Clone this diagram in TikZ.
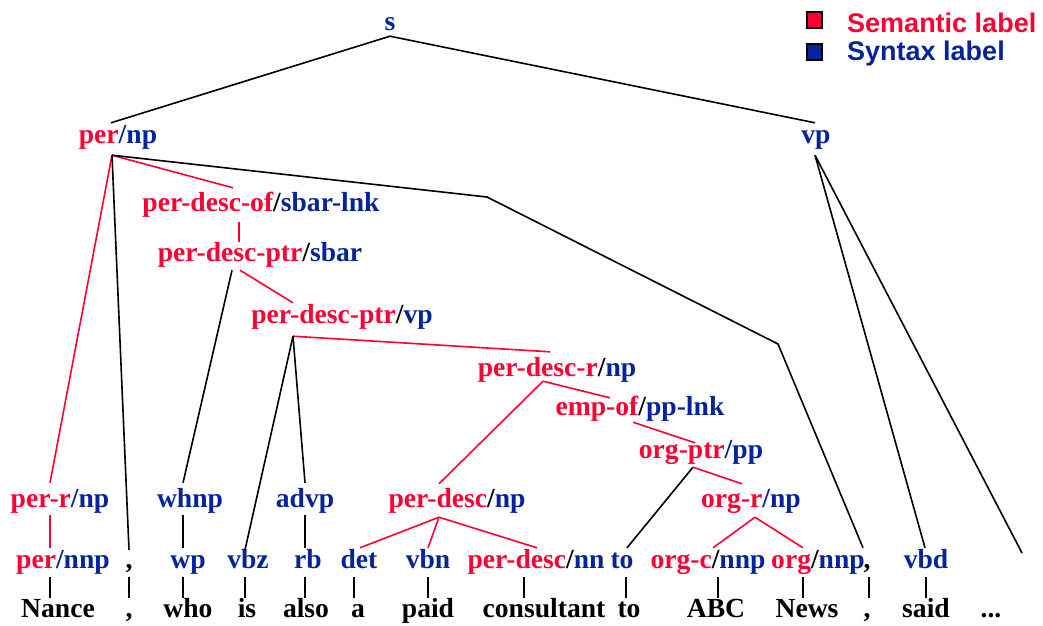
\documentclass[tikz,border=0pt]{standalone}
\usepackage{fontspec}
\setmainfont{Liberation Serif}
\newfontfamily\legendfont{Liberation Sans}
\usetikzlibrary{calc}
\definecolor{semred}{RGB}{255,0,51}
\definecolor{synblue}{RGB}{5,35,155}
\newcommand\se[1]{\textcolor{semred}{#1}}
\newcommand\sy[1]{\textcolor{synblue}{#1}}
\begin{document}
\begin{tikzpicture}[x=1pt,y=-1pt,
  lbl/.style={anchor=base, inner sep=0pt, text height=21pt, text depth=9pt,
              font=\fontsize{27.6}{28}\selectfont\bfseries},
  blk/.style={draw=black, line width=1.6pt},
  rd/.style={draw=semred, line width=1.6pt},
  legbox/.style={draw=black, line width=2pt, minimum width=15pt, minimum height=16pt, inner sep=0pt},
  legtxt/.style={anchor=base west, inner sep=0pt, font=\legendfont\bfseries\fontsize{27}{27}\selectfont}]
\useasboundingbox (0,0) rectangle (1043,625);

% legend
\node[legbox, fill=semred] (lgr) at (814.5,20) {};
\node[legbox, fill=synblue] (lgb) at (814.5,52) {};
\node[legtxt, text=semred] (lgt1) at (847,32) {Semantic label};
\node[legtxt, text=synblue] (lgt2) at (847,60) {Syntax label};

% internal nodes
\node[lbl] (s) at (390,30) {\sy{s}};
\node[lbl] (pernp) at (118,143) {\se{per}\sy{/np}};
\node[lbl] (vp) at (816,143) {\sy{vp}};
\node[lbl] (descof) at (261,211) {\se{per-desc-of}/\sy{sbar-lnk}};
\node[lbl] (ptrsbar) at (260,261) {\se{per-desc-ptr}/\sy{sbar}};
\node[lbl] (ptrvp) at (342,323) {\se{per-desc-ptr}/\sy{vp}};
\node[lbl] (descr) at (557,376) {\se{per-desc-r}/\sy{np}};
\node[lbl] (empof) at (640,415) {\se{emp-of}/\sy{pp-lnk}};
\node[lbl] (orgptr) at (701,458) {\se{org-ptr}\sy{/pp}};
% row 2
\node[lbl] (perr) at (60,507) {\se{per-r}\sy{/np}};
\node[lbl] (whnp) at (190,507) {\sy{whnp}};
\node[lbl] (advp) at (305,507) {\sy{advp}};
\node[lbl] (perdesc) at (457,507) {\se{per-desc}/\sy{np}};
\node[lbl] (orgr) at (751,507) {\se{org-r}\sy{/np}};
% row 3 (tags)
\node[lbl] (pernnp) at (63,568) {\se{per}\sy{/nnp}};
\node[lbl] (c1) at (129,568) {,};
\node[lbl] (wp) at (188,568) {\sy{wp}};
\node[lbl] (vbz) at (248,568) {\sy{vbz}};
\node[lbl] (rb) at (308,568) {\sy{rb}};
\node[lbl] (det) at (359,568) {\sy{det}};
\node[lbl] (vbn) at (428,568) {\sy{vbn}};
\node[lbl] (pdnn) at (536,568) {\se{per-desc}/\sy{nn}};
\node[lbl] (to) at (622,568) {\sy{to}};
\node[lbl] (orgc) at (708,568) {\se{org-c}/\sy{nnp}};
\node[lbl] (orgnnp) at (818,568) {\se{org}/\sy{nnp}};
\node[lbl] (c2) at (867,568) {,};
\node[lbl] (vbd) at (926,568) {\sy{vbd}};
% row 4 (words)
\node[lbl] (w1) at (58,617) {Nance};
\node[lbl] (w2) at (129,617) {,};
\node[lbl] (w3) at (188,617) {who};
\node[lbl] (w4) at (247,617) {is};
\node[lbl] (w5) at (306,617) {also};
\node[lbl] (w6) at (358,617) {a};
\node[lbl] (w7) at (428,617) {paid};
\node[lbl] (w8) at (544,617) {consultant};
\node[lbl] (w9) at (629,617) {to};
\node[lbl] (w10) at (716,617) {ABC};
\node[lbl] (w11) at (807,617) {News};
\node[lbl] (w12) at (867,617) {,};
\node[lbl] (w13) at (926,617) {said};
\node[lbl] (w14) at (991,617) {...};
\coordinate (ellend) at (1022,553);

% connectors
\draw[blk] ($(s.south)+(0,-3)$) -- ($(pernp.north)+(-7,1)$);
\draw[blk] ($(s.south)+(0,-3)$) -- ($(vp.north)+(-1,1)$);
\draw[rd] ($(pernp.south)+(-6,3)$) -- ($(perr.north)+(-10,-3)$);
\draw[blk] ($(pernp.south)+(-6,3)$) -- ($(c1.north)+(0,3)$);
\draw[rd] ($(pernp.south)+(-6,3)$) -- ($(descof.north)+(-28,-2)$);
\draw[blk] ($(pernp.south)+(-6,3)$) -- (487,197) -- (778,344) -- ($(c2.north)+(-4,1)$);
\draw[rd] ($(descof.south)+(-22,2)$) -- ($(ptrsbar.north)+(-21,2)$);
\draw[blk] ($(ptrsbar.south)+(-28,0)$) -- ($(whnp.north)+(-7,-3)$);
\draw[rd] ($(ptrsbar.south)+(-20,0)$) -- ($(ptrvp.north)+(-49,1)$);
\draw[rd] ($(ptrvp.south)+(-49,4)$) -- ($(descr.north)+(-7,-3)$);
\draw[blk] ($(ptrvp.south)+(-49,4)$) -- ($(vbz.north)+(-3,3)$);
\draw[blk] ($(ptrvp.south)+(-49,4)$) -- ($(advp.north)+(0,-3)$);
\draw[rd] ($(descr.south)+(-14,-4)$) -- ($(perdesc.north)+(-18,-2)$);
\draw[rd] ($(descr.south)+(-14,-4)$) -- ($(empof.north)+(-30,4)$);
\draw[rd] ($(empof.south)+(-7,-2)$) -- ($(orgptr.north)+(-6,6)$);
\draw[blk] ($(orgptr.south)+(-8,0)$) -- ($(to.north)+(5,1)$);
\draw[rd] ($(orgptr.south)+(-8,0)$) -- ($(orgr.north)+(-9,-2)$);
\draw[rd] ($(orgr.south)+(4,1)$) -- ($(orgc.north)+(5,1)$);
\draw[rd] ($(orgr.south)+(4,1)$) -- ($(orgnnp.north)+(-15,1)$);
\draw[rd] ($(perr.south)+(-10,-1)$) -- ($(pernnp.north)+(-13,1)$);
\draw[blk] ($(whnp.south)+(-7,-1)$) -- ($(wp.north)+(-5,1)$);
\draw[blk] ($(advp.south)+(0,-1)$) -- ($(rb.north)+(-3,1)$);
\draw[rd] ($(perdesc.south)+(-18,1)$) -- ($(det.north)+(1,1)$);
\draw[rd] ($(perdesc.south)+(-18,1)$) -- ($(vbn.north)+(0,1)$);
\draw[rd] ($(perdesc.south)+(-18,1)$) -- ($(pdnn.north)+(1,1)$);
\draw[blk] ($(vp.south)+(-1,3)$) -- ($(vbd.north)+(-1,1)$);
\draw[blk] ($(vp.south)+(-1,3)$) -- (ellend);
\foreach \a/\da/\b/\db in {pernnp/-13/w1/-8, c1/0/w2/0, wp/-5/w3/-5, vbz/-3/w4/-2,
    rb/-3/w5/-1, det/-5/w6/-4, vbn/0/w7/0, pdnn/-12/w8/-20, to/4/w9/-3,
    orgc/10/w10/2, orgnnp/-15/w11/-4, c2/2/w12/2, vbd/0/w13/0}
  \draw[blk] ($(\a.south)+(\da,0)$) -- ($(\b.north)+(\db,2)$);
\end{tikzpicture}
\end{document}
